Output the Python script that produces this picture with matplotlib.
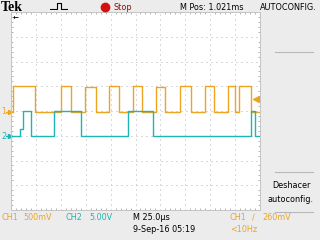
import numpy as np
import matplotlib
matplotlib.use("Agg")
import matplotlib.pyplot as plt
from matplotlib.lines import Line2D

# Tek scope capture: 25 us/div, CH1 500 mV/div, CH2 5 V/div
time_per_div = 25.0
ch1_scale = 0.5
ch2_scale = 5.0
ch1_pos = -0.04   # divisions (ground marker)
ch2_pos = -1.02
trig_level = 0.26

# waveform transitions (us from left edge) and levels (V)
ch1_t = [0, 2, 24, 50, 60, 74, 85, 98, 108, 122, 132, 146, 155, 170, 181,
         195, 204, 218, 225, 229, 241, 250]
ch1_v = [0.0, 0.53, 0.0, 0.52, 0.0, 0.51, 0.0, 0.52, 0.0, 0.52, 0.0, 0.51,
         0.0, 0.52, 0.0, 0.52, 0.0, 0.53, 0.0, 0.52, 0.0, 0.0]
ch2_t = [0, 9, 12, 20, 43, 70, 117, 143, 241, 245, 250]
ch2_v = [0.0, 1.4, 5.0, 0.0, 5.0, 0.0, 5.0, 0.0, 5.0, 0.0, 0.0]

icon_x = [0, 7, 7, 11, 11, 18]
icon_y = [0, 0, 1, 1, 0, 0]

orange = "#eda520"
cyan = "#1fb5b5"
bg = "#ececec"
grid_c = "#b4b4b4"
fnt = dict(family="DejaVu Sans", fontstretch="condensed", fontsize=6.5)

W, H = 320, 240
fig = plt.figure(figsize=(3.2, 2.4), dpi=100, facecolor=bg)


def fx(px):
    return px / W


def fy(py):
    return 1 - py / H


# graticule
left, top, right, bottom = 11, 12, 260, 210
ax = fig.add_axes([fx(left), fy(bottom), fx(right - left), (bottom - top) / H])
ax.set_facecolor("white")
ax.set_xlim(0, 10)
ax.set_ylim(-4, 4)
ax.set_xticks(np.arange(0, 11, 1))
ax.set_yticks(np.arange(-4, 5, 1))
ax.set_xticks(np.arange(0, 10.01, 0.2), minor=True)
ax.set_yticks(np.arange(-4, 4.01, 0.2), minor=True)
ax.tick_params(which="both", direction="in", top=True, right=True,
               labelbottom=False, labelleft=False, color=grid_c, width=0.7)
ax.tick_params(which="major", length=0)
ax.tick_params(which="minor", length=1.6)
ax.grid(True, which="major", color=grid_c, lw=0.72, linestyle=(0, (1, 4)))
for s in ax.spines.values():
    s.set_color("#c4c4c4")
    s.set_linewidth(0.7)

# traces
t1 = np.array(ch1_t) / time_per_div
y1 = ch1_pos + np.array(ch1_v) / ch1_scale
t2 = np.array(ch2_t) / time_per_div
y2 = ch2_pos + np.array(ch2_v) / ch2_scale
ax.plot(t1, y1, drawstyle="steps-post", color=orange, lw=1.0)
ax.plot(t2, y2, drawstyle="steps-post", color=cyan, lw=1.0)

# channel ground markers
for pos, lab, col in ((ch1_pos, "1", orange), (ch2_pos, "2", cyan)):
    ax.text(-0.4, pos, lab, color=col, ha="left", va="center", clip_on=False, **fnt)
    ax.plot([-0.2, -0.02], [pos, pos], color=col, lw=0.8, clip_on=False)
    ax.plot([-0.05], [pos], marker=">", ms=3, color=col, clip_on=False)

# trigger level marker
trig_y = ch1_pos + trig_level / ch1_scale
ax.plot([9.82], [trig_y], marker="<", ms=4, color=orange, clip_on=False)
ax.plot([9.82, 10.0], [trig_y, trig_y], color=orange, lw=1.0)

# horizontal position marker (trigger off screen to the left)
ax.text(0.05, 3.76, "\u2190", fontsize=5, fontweight="bold", color="black",
        ha="left", va="center")

# header
fig.text(fx(1), fy(11), "Tek", fontsize=10, fontweight="bold",
         family="Liberation Serif", va="baseline", ha="left")
iax = fig.add_axes([fx(50), fy(10), fx(18), 8 / H])
iax.plot(icon_x, icon_y, color="black", lw=0.8)
iax.set_xlim(0, 18)
iax.set_ylim(-0.1, 1.1)
iax.axis("off")
fig.add_artist(Line2D([fx(105)], [fy(7)], marker="o", ms=6, color="#d41010",
                      transform=fig.transFigure))
fig.text(fx(113), fy(7.5), "Stop", color="#8a1010", va="center", **fnt)
fig.text(fx(180), fy(7.5), "M Pos: 1.021ms", va="center", **fnt)
fig.text(fx(317), fy(7.5), "AUTOCONFIG.", va="center", ha="right", **fnt)

# right side menu
for yy in (52, 172, 212):
    fig.add_artist(Line2D([fx(275), fx(313)], [fy(yy), fy(yy)], color="#b8b8b8",
                          lw=0.8, transform=fig.transFigure))
fig.text(fx(291), fy(186), "Deshacer", ha="center", va="center", **fnt)
fig.text(fx(291), fy(199), "autoconfig.", ha="center", va="center", **fnt)

# status bar
row1, row2 = 218, 230
fig.text(fx(1), fy(row1), "CH1", color=orange, va="center", **fnt)
fig.text(fx(23), fy(row1), "500mV", color=orange, va="center", **fnt)
fig.text(fx(66), fy(row1), "CH2", color=cyan, va="center", **fnt)
fig.text(fx(89), fy(row1), "5.00V", color=cyan, va="center", **fnt)
fig.text(fx(133), fy(row1), "M 25.0\u00b5s", va="center", **fnt)
fig.text(fx(133), fy(row2), "9-Sep-16 05:19", va="center", **fnt)
fig.text(fx(230), fy(row1), "CH1", color=orange, va="center", **fnt)
fig.text(fx(252), fy(row1), "\u2215", color=orange, va="center", **fnt)
fig.text(fx(262), fy(row1), "260mV", color=orange, va="center", **fnt)
fig.text(fx(230), fy(row2), "<10Hz", color=orange, va="center", **fnt)

fig.savefig("out.png", dpi=100, facecolor=bg)
